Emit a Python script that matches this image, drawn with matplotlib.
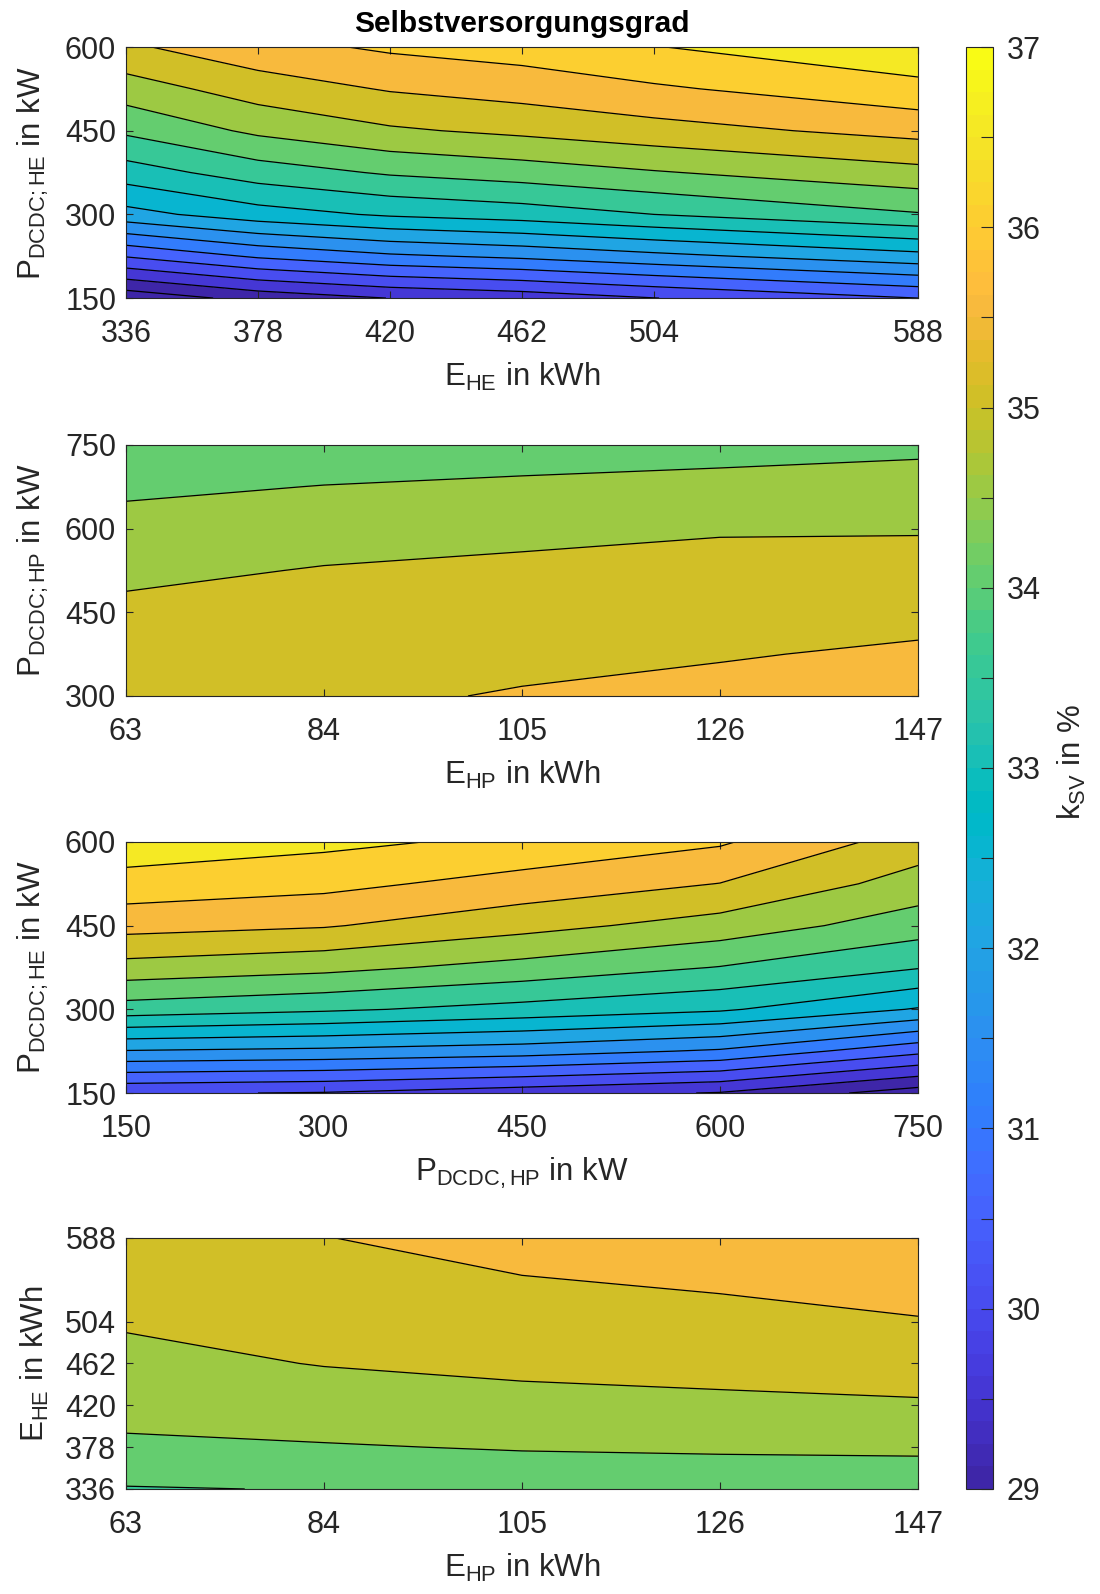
import numpy as np
import matplotlib.pyplot as plt
from matplotlib.colors import ListedColormap, Normalize
from matplotlib.ticker import MultipleLocator
import matplotlib as mpl

plt.rcParams['font.family'] = 'Liberation Sans'
plt.rcParams['mathtext.fontset'] = 'custom'
plt.rcParams['mathtext.rm'] = 'Liberation Sans'
plt.rcParams['mathtext.it'] = 'Liberation Sans:italic'
plt.rcParams['mathtext.bf'] = 'Liberation Sans:bold'

# grid axes (values as used in the simulations)
e_he = [336, 378, 420, 462, 504, 588]          # kWh
e_hp = [63, 84, 105, 126, 147]                 # kWh
p_dcdc_he = [150, 225, 300, 375, 450, 525, 600]  # kW
p_dcdc_hp = [300, 375, 450, 525, 600, 675, 750]  # kW (plot 2)
p_dcdc_hp3 = [150, 300, 450, 600, 750]           # kW (plot 3)

# self-sufficiency in %, rows = y values, cols = x values
k_sv_ehe_phe = [
    [28.65, 29.18, 29.51, 29.70, 29.99, 30.50],
    [30.53, 31.07, 31.41, 31.60, 31.86, 32.33],
    [32.32, 32.78, 33.07, 33.24, 33.50, 33.96],
    [33.26, 33.75, 34.06, 34.24, 34.46, 34.84],
    [34.09, 34.60, 34.93, 35.11, 35.31, 35.67],
    [34.76, 35.24, 35.54, 35.71, 35.93, 36.33],
    [35.42, 35.83, 36.08, 36.23, 36.48, 36.93],
]
k_sv_ehp_php = [
    [35.40, 35.42, 35.53, 35.62, 35.72],
    [35.30, 35.35, 35.40, 35.47, 35.56],
    [35.12, 35.22, 35.27, 35.33, 35.38],
    [34.88, 35.03, 35.12, 35.19, 35.20],
    [34.65, 34.77, 34.85, 34.95, 34.96],
    [34.42, 34.51, 34.57, 34.63, 34.69],
    [34.20, 34.26, 34.30, 34.34, 34.40],
]
k_sv_php_phe = [
    [30.06, 29.97, 29.72, 29.47, 28.75],
    [31.97, 31.88, 31.73, 31.43, 30.63],
    [33.78, 33.58, 33.33, 33.07, 32.46],
    [34.82, 34.64, 34.33, 33.98, 33.53],
    [35.68, 35.54, 35.17, 34.79, 34.24],
    [36.30, 36.14, 35.81, 35.49, 34.79],
    [36.81, 36.62, 36.38, 36.06, 35.27],
]
k_sv_ehp_ehe = [
    [33.97, 34.02, 34.20, 34.21, 34.21],
    [34.42, 34.47, 34.53, 34.56, 34.58],
    [34.66, 34.75, 34.85, 34.91, 34.95],
    [34.86, 35.02, 35.11, 35.15, 35.22],
    [35.05, 35.18, 35.29, 35.36, 35.47],
    [35.47, 35.49, 35.67, 35.78, 35.94],
]

levels = np.arange(28.5, 37.01, 0.5)

# MATLAB parula (64 colours)
parula_rgb = [
    [0.2422, 0.1504, 0.6603], [0.2504, 0.1650, 0.7076], [0.2578, 0.1818, 0.7511], [0.2647, 0.1978, 0.7952],
    [0.2706, 0.2147, 0.8364], [0.2751, 0.2342, 0.8710], [0.2783, 0.2559, 0.8991], [0.2803, 0.2782, 0.9221],
    [0.2813, 0.3006, 0.9414], [0.2810, 0.3228, 0.9579], [0.2795, 0.3447, 0.9717], [0.2760, 0.3667, 0.9829],
    [0.2699, 0.3892, 0.9906], [0.2602, 0.4123, 0.9952], [0.2440, 0.4358, 0.9988], [0.2206, 0.4603, 0.9973],
    [0.1963, 0.4847, 0.9892], [0.1834, 0.5074, 0.9798], [0.1786, 0.5289, 0.9682], [0.1764, 0.5499, 0.9520],
    [0.1687, 0.5703, 0.9359], [0.1540, 0.5902, 0.9218], [0.1460, 0.6091, 0.9079], [0.1380, 0.6276, 0.8973],
    [0.1248, 0.6459, 0.8883], [0.1113, 0.6635, 0.8763], [0.0952, 0.6798, 0.8598], [0.0689, 0.6948, 0.8394],
    [0.0297, 0.7082, 0.8163], [0.0036, 0.7203, 0.7917], [0.0067, 0.7312, 0.7660], [0.0433, 0.7411, 0.7394],
    [0.0964, 0.7500, 0.7120], [0.1408, 0.7584, 0.6842], [0.1717, 0.7670, 0.6554], [0.1938, 0.7758, 0.6251],
    [0.2161, 0.7843, 0.5923], [0.2470, 0.7918, 0.5567], [0.2906, 0.7973, 0.5188], [0.3406, 0.8008, 0.4789],
    [0.3909, 0.8029, 0.4354], [0.4456, 0.8024, 0.3909], [0.5044, 0.7993, 0.3480], [0.5616, 0.7942, 0.3045],
    [0.6174, 0.7876, 0.2612], [0.6720, 0.7793, 0.2227], [0.7242, 0.7698, 0.1910], [0.7738, 0.7598, 0.1646],
    [0.8203, 0.7498, 0.1535], [0.8634, 0.7406, 0.1596], [0.9035, 0.7330, 0.1774], [0.9393, 0.7288, 0.2100],
    [0.9728, 0.7298, 0.2394], [0.9956, 0.7434, 0.2371], [0.9970, 0.7659, 0.2199], [0.9952, 0.7893, 0.2028],
    [0.9892, 0.8136, 0.1885], [0.9786, 0.8386, 0.1766], [0.9676, 0.8639, 0.1643], [0.9610, 0.8890, 0.1537],
    [0.9597, 0.9135, 0.1423], [0.9628, 0.9373, 0.1265], [0.9691, 0.9606, 0.1064], [0.9769, 0.9839, 0.0805],
]
parula = ListedColormap(parula_rgb, name='parula')
norm = Normalize(29, 37)
# matlab fills each band with the colour of its lower level
band_colors = [parula(norm(l)) for l in levels[:-1]]

TXT = '0.15'
fig = plt.figure(figsize=(11, 15.94), dpi=100)

panels = [
    (e_he, p_dcdc_he, k_sv_ehe_phe, r'$\mathrm{E_{HE}}$ in kWh', r'$\mathrm{P_{DCDC;HE}}$ in kW',
     e_he, [150, 300, 450, 600], 0.8130),
    (e_hp, p_dcdc_hp, k_sv_ehp_php, r'$\mathrm{E_{HP}}$ in kWh', r'$\mathrm{P_{DCDC;HP}}$ in kW',
     e_hp, [300, 450, 600, 750], 0.5634),
    (p_dcdc_hp3, p_dcdc_he, k_sv_php_phe, r'$\mathrm{P_{DCDC,HP}}$ in kW', r'$\mathrm{P_{DCDC;HE}}$ in kW',
     p_dcdc_hp3, [150, 300, 450, 600], 0.3143),
    (e_hp, e_he, k_sv_ehp_ehe, r'$\mathrm{E_{HP}}$ in kWh', r'$\mathrm{E_{HE}}$ in kWh',
     e_hp, e_he, 0.0659),
]

axes = []
for x, y, z, xl, yl, xt, yt, bottom in panels:
    ax = fig.add_axes([0.1145, bottom, 0.72, 0.1575])
    z = np.array(z)
    ax.contourf(x, y, z, levels=levels, colors=band_colors)
    ax.contour(x, y, z, levels=levels, colors='k', linewidths=0.9)
    ax.set_xlim(min(x), max(x))
    ax.set_ylim(min(y), max(y))
    ax.set_xticks(xt)
    ax.set_yticks(yt)
    ax.tick_params(direction='in', top=True, right=True, length=5, width=0.8,
                   labelsize=22, colors=TXT)
    ax.tick_params(axis='x', pad=15)
    ax.tick_params(axis='y', pad=7)
    for s in ax.spines.values():
        s.set_color(TXT)
        s.set_linewidth(0.8)
    ax.set_xlabel(xl, fontsize=22.5, color=TXT)
    ax.set_ylabel(yl, fontsize=22.5, color=TXT)
    ax.xaxis.set_label_coords(0.5, -0.25)
    ax.yaxis.set_label_coords(-0.095, 0.5)
    axes.append(ax)

axes[0].set_title('Selbstversorgungsgrad', fontsize=21.5, fontweight='bold', pad=11)

cax = fig.add_axes([0.8782, 0.0659, 0.0245, 0.9046])
sm = mpl.cm.ScalarMappable(norm=norm, cmap=parula)
cb = fig.colorbar(sm, cax=cax, ticks=range(29, 38))
cb.ax.yaxis.set_minor_locator(MultipleLocator(0.5))
cb.ax.tick_params(which='both', direction='in', length=9, width=0.8, colors=TXT,
                  labelsize=22, pad=10)
cb.outline.set_edgecolor(TXT)
cb.outline.set_linewidth(0.8)
fig.text(0.9745, 0.522, r'$\mathrm{k_{SV}}$ in %', rotation=90, ha='center', va='center',
         fontsize=22.5, color=TXT)

fig.savefig('out.png', dpi=100)
